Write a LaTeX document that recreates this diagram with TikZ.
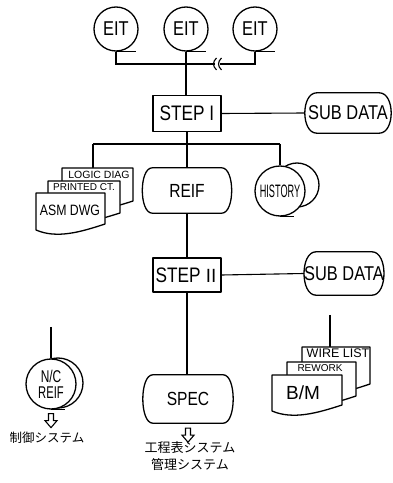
\documentclass[tikz,border=0pt]{standalone}
\usepackage{fontspec}
\setmainfont{Liberation Sans}
\newfontfamily\cond{Liberation Sans}[FakeStretch=0.82]
\newfontfamily\jp{Noto Sans CJK JP}
\usetikzlibrary{calc}
\tikzset{
  shp/.style={line width=1.3pt, line join=round},
  con/.style={line width=1.1pt},
  tapenode/.style={circle, draw, shp, fill=white, minimum size=#1, inner sep=0pt},
  stepbox/.style={draw, shp, fill=white, minimum width=68pt, minimum height=36pt, inner sep=0pt, font=\cond\fontsize{21}{21}\selectfont},
  bulgenode/.style={inner sep=0pt, font=\cond\fontsize{20}{20}\selectfont},
  doctext/.style={inner sep=0pt},
  jptext/.style={inner sep=0pt, font=\jp\fontsize{13}{13}\selectfont},
  pics/harrow/.style={code={
    \draw[line width=1.1pt, line join=miter, fill=white]
      (-2.5,0) -- (2.5,0) -- (2.5,-7) -- (6,-7) -- (0,-14) -- (-6,-7) -- (-2.5,-7) -- cycle;}}
}
\newcommand\bulgeoutline[2]{%
  \draw[shp] ([xshift=#2]#1.north west) -- ([xshift=-#2]#1.north east)
    .. controls ([xshift=#2/3]#1.north east) and ([xshift=#2/3]#1.south east) ..
    ([xshift=-#2]#1.south east) -- ([xshift=#2]#1.south west)
    .. controls ([xshift=-#2/3]#1.south west) and ([xshift=-#2/3]#1.north west) ..
    cycle;}
\newcommand\docpath[4]{%
  \filldraw[shp, fill=white] (#1,#2) -- ({#1+#3},#2) -- ({#1+#3},{#4+6})
    .. controls ({#1+0.65*#3},{#4-2}) and ({#1+0.3*#3},{#4-9}) .. (#1,#4) -- cycle;}
\begin{document}
\begin{tikzpicture}[x=1pt,y=1pt]
\useasboundingbox (0,0) rectangle (393,483);

% EIT tapes
\node[tapenode=44pt, font=\cond\fontsize{20}{20}\selectfont] (e1) at (116,454) {EIT};
\node[tapenode=44pt, font=\cond\fontsize{20}{20}\selectfont] (e2) at (186,454) {EIT};
\node[tapenode=44pt, font=\cond\fontsize{20}{20}\selectfont] (e3) at (255,454) {EIT};
\foreach \n in {e1,e2,e3} \draw[shp] (\n.south) -- ++(20,0);

\coordinate (brkL) at (215,419);
\coordinate (brkR) at (220,419);
\draw[con] (e1.south) |- (brkL);
\draw[con] (brkR) -| (e3.south);
\draw[con] (216.5,425) .. controls (212.5,421) and (212.5,417) .. (216.5,413);
\draw[con] (221.5,425) .. controls (217.5,421) and (217.5,417) .. (221.5,413);

% STEP I and SUB DATA
\node[stepbox] (s1) at (187,369.5) {STEP I};
\node[bulgenode, minimum width=86pt, minimum height=40pt] (sd1) at (348,370) {SUB DATA};
\bulgeoutline{sd1}{12pt}
\draw[con] (e2.south) -- (e2.south |- s1.north);
\draw[con] (s1.east) -- (sd1.west);

% branch
\coordinate (bj) at (187,339);
\coordinate (bl) at (93,339);
\coordinate (br) at (280,339);
\coordinate (logictop) at (93,315);
\draw[con] (s1.south) -- (bj);
\draw[con] (bl) -- (br);
\draw[con] (bl) -- (logictop);

% documents left
\docpath{62}{315}{71}{276}
\docpath{48}{302}{72}{264}
\docpath{36}{290}{69}{253}
\node[doctext, font=\fontsize{10.5}{10.5}\selectfont] (tlogic) at (99,308.5) {LOGIC DIAG};
\node[doctext, font=\fontsize{10}{10}\selectfont] (tprint) at (84,296) {PRINTED CT.};
\node[doctext, font=\cond\fontsize{15}{15}\selectfont] (tasm) at (70,273) {ASM DWG};

% REIF
\node[bulgenode, font=\cond\fontsize{19}{19}\selectfont, minimum width=89pt, minimum height=45pt] (reif) at (187,292.5) {REIF};
\bulgeoutline{reif}{10pt}
\draw[con] (bj) -- (reif.north);

% HISTORY
\draw[shp] (297,298) circle[radius=22];
\node[tapenode=50pt] (hist) at (280,292) {\scalebox{0.62}[1]{\cond\fontsize{18}{18}\selectfont HISTORY}};
\draw[shp] (hist.south) -- ++(14,0);
\draw[con] (br) -- (hist.north);

% STEP II and SUB DATA
\node[stepbox, minimum height=34pt] (s2) at (187,208) {STEP\ \makebox[0.62em]{\jp\fontsize{18}{18}\selectfont Ⅱ}};
\node[bulgenode, minimum width=78pt, minimum height=43pt] (sd2) at (344,209.5) {SUB DATA};
\bulgeoutline{sd2}{12pt}
\draw[con] (reif.south) -- (s2.north);
\draw[con] (s2.east) -- (sd2.west);

% SPEC
\node[bulgenode, font=\cond\fontsize{19}{19}\selectfont, minimum width=90pt, minimum height=48pt] (spec) at (188,84) {SPEC};
\bulgeoutline{spec}{10pt}
\draw[con] (s2.south) -- (s2.south |- spec.north);
\pic at ([yshift=-5pt]spec.south) {harrow};
\node[jptext] (j1) at (190,35) {工程表システム};
\node[jptext] (j2) at (190,18) {管理システム};

% N/C REIF
\coordinate (nctop) at (51,156);
\draw[shp] (58,100) circle[radius=25];
\node[tapenode=50pt] (nc) at (51,99) {};
\node[inner sep=0pt, font=\fontsize{17}{17}\selectfont] (nc1) at (51,107) {\scalebox{0.7}[1]{N/C}};
\node[inner sep=0pt, font=\fontsize{17}{17}\selectfont] (nc2) at (51,90) {\scalebox{0.66}[1]{REIF}};
\draw[shp] (nc.south) -- ++(14,0);
\draw[con] (nctop) -- (nc.north);
\pic at ([yshift=-4pt]nc.south) {harrow};
\node[jptext, font=\jp\fontsize{12.5}{12.5}\selectfont] (j3) at (47,45) {制御システム};

% documents right
\coordinate (wiretop) at (330,168);
\draw[con] (wiretop) -- (330,136);
\docpath{302}{136}{68}{93}
\docpath{287}{121}{69}{81}
\docpath{272}{108}{70}{72}
\node[doctext, font=\fontsize{12.5}{12.5}\selectfont] (twire) at (338,130) {WIRE LIST};
\node[doctext, font=\fontsize{10}{10}\selectfont] (trework) at (320,115) {REWORK};
\node[doctext, font=\fontsize{19}{19}\selectfont] (tbm) at (303,90) {B/M};
\end{tikzpicture}
\end{document}
